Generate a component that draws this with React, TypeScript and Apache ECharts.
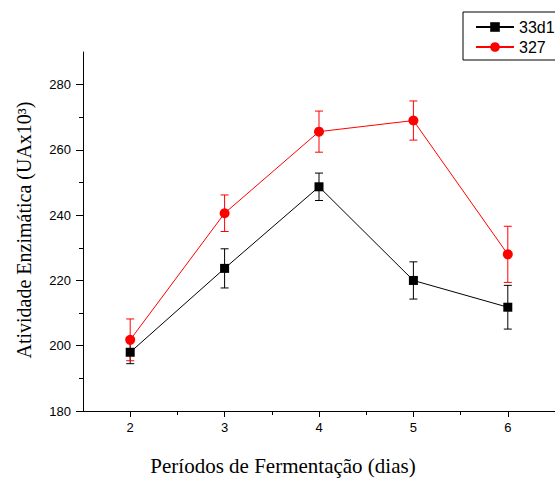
import React, { useEffect, useRef } from "react";
import * as echarts from "echarts";

const days = [2, 3, 4, 5, 6];
const s33d1 = [198, 223.7, 248.7, 220, 211.8];
const e33d1 = [3.5, 6, 4.2, 5.7, 6.7];
const s327 = [201.8, 240.6, 265.6, 269, 228];
const e327 = [6.4, 5.6, 6.3, 6, 8.6];
const xMajor = [2, 3, 4, 5, 6];
const xMinor = [2.5, 3.5, 4.5, 5.5];
const yMajor = [180, 200, 220, 240, 260, 280];
const yMinor = [190, 210, 230, 250, 270];

const BLACK = "#000000";
const RED = "#ff0000";
const SANS = "Liberation Sans, Arial, sans-serif";
const SERIF = "Liberation Serif, Times New Roman, serif";

function errData(vals: number[], errs: number[]) {
  return days.map((d, i) => [d, vals[i] - errs[i], vals[i] + errs[i]]);
}

function errSeries(name: string, vals: number[], errs: number[], color: string) {
  return {
    type: "custom",
    name: name + "_err",
    data: errData(vals, errs),
    encode: { x: 0, y: [1, 2] },
    z: 1,
    silent: true,
    renderItem: (params: any, api: any) => {
      const x = api.value(0);
      const lo = api.coord([x, api.value(1)]);
      const hi = api.coord([x, api.value(2)]);
      const w = 4;
      const st = { stroke: color, lineWidth: 1 };
      return {
        type: "group",
        children: [
          { type: "line", shape: { x1: lo[0], y1: lo[1], x2: hi[0], y2: hi[1] }, style: st },
          { type: "line", shape: { x1: lo[0] - w, y1: lo[1], x2: lo[0] + w, y2: lo[1] }, style: st },
          { type: "line", shape: { x1: hi[0] - w, y1: hi[1], x2: hi[0] + w, y2: hi[1] }, style: st },
        ],
      };
    },
  };
}

export default function App() {
  const ref = useRef<HTMLDivElement>(null);
  useEffect(() => {
    if (!ref.current) return;
    const chart = echarts.init(ref.current, null, { renderer: "svg" });
    const axisCommon = {
      type: "value",
      splitLine: { show: false },
    };
    chart.setOption({
      animation: false,
      backgroundColor: "#ffffff",
      grid: { left: 83, right: 0, top: 52, bottom: 67 },
      legend: {
        orient: "vertical",
        left: 463,
        top: 12,
        padding: [7, 12, 5, 12],
        borderColor: BLACK,
        borderWidth: 1,
        borderRadius: 0,
        itemWidth: 38,
        itemHeight: 12,
        itemGap: 4,
        textStyle: { fontFamily: SANS, fontSize: 16, color: BLACK },
        data: ["33d1", "327"],
      },
      xAxis: [
        {
          ...axisCommon,
          position: "bottom",
          min: 1.5,
          max: 6.5,
          axisLine: { show: true, onZero: false, lineStyle: { color: BLACK, width: 1 } },
          axisTick: { show: true, length: 6, customValues: xMajor, lineStyle: { color: BLACK } },
          axisLabel: {
            show: true,
            customValues: xMajor,
            margin: 10,
            fontFamily: SANS,
            fontSize: 13,
            color: BLACK,
          },
        },
        {
          ...axisCommon,
          position: "bottom",
          min: 1.5,
          max: 6.5,
          axisLine: { show: false, onZero: false },
          axisTick: { show: true, length: 4, customValues: xMinor, lineStyle: { color: BLACK } },
          axisLabel: { show: false },
        },
      ],
      yAxis: [
        {
          ...axisCommon,
          position: "left",
          min: 180,
          max: 290,
          axisLine: { show: true, onZero: false, lineStyle: { color: BLACK, width: 1 } },
          axisTick: { show: true, length: 7, customValues: yMajor, lineStyle: { color: BLACK } },
          axisLabel: {
            show: true,
            customValues: yMajor,
            margin: 12,
            fontFamily: SANS,
            fontSize: 13,
            color: BLACK,
          },
        },
        {
          ...axisCommon,
          position: "left",
          min: 180,
          max: 290,
          axisLine: { show: false, onZero: false },
          axisTick: { show: true, length: 4, customValues: yMinor, lineStyle: { color: BLACK } },
          axisLabel: { show: false },
        },
      ],
      graphic: [
        {
          type: "text",
          x: 283,
          y: 466,
          style: {
            text: "Períodos de Fermentação (dias)",
            fontFamily: SERIF,
            fontSize: 21,
            fill: BLACK,
            align: "center",
            verticalAlign: "middle",
          },
        },
        {
          type: "text",
          x: 24,
          y: 230,
          rotation: Math.PI / 2,
          style: {
            text: "Atividade Enzimática (UAx10³)",
            fontFamily: SERIF,
            fontSize: 20,
            fill: BLACK,
            align: "center",
            verticalAlign: "middle",
          },
        },
      ],
      series: [
        errSeries("33d1", s33d1, e33d1, BLACK),
        errSeries("327", s327, e327, RED),
        {
          type: "line",
          name: "33d1",
          data: days.map((d, i) => [d, s33d1[i]]),
          symbol: "rect",
          symbolSize: 9,
          z: 3,
          lineStyle: { color: BLACK, width: 1 },
          itemStyle: { color: BLACK },
        },
        {
          type: "line",
          name: "327",
          data: days.map((d, i) => [d, s327[i]]),
          symbol: "circle",
          symbolSize: 10,
          z: 3,
          lineStyle: { color: RED, width: 1 },
          itemStyle: { color: RED },
        },
      ],
    });
    return () => chart.dispose();
  }, []);
  return (
    <div
      ref={ref}
      style={{ position: "fixed", left: 0, top: 0, width: 555, height: 478, background: "#fff" }}
    />
  );
}
